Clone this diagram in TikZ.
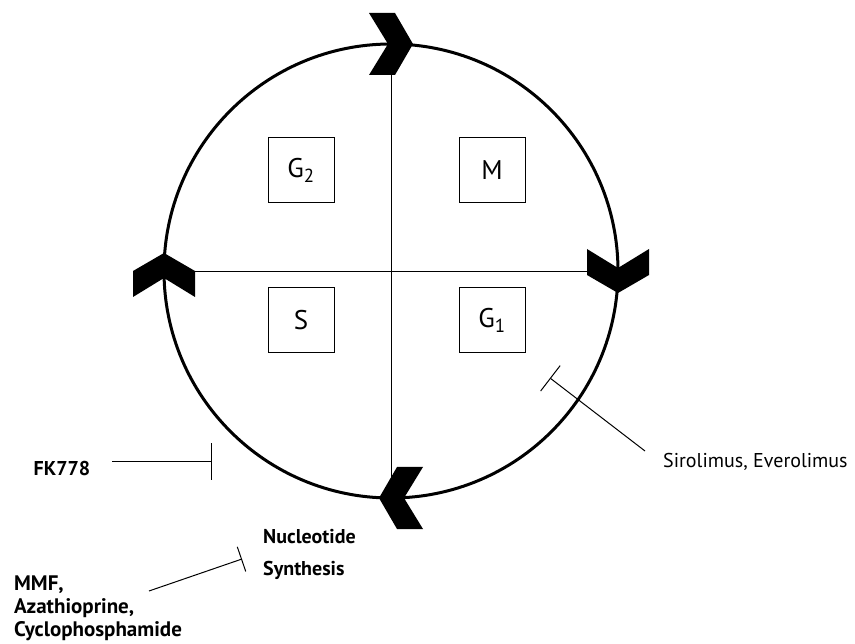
\documentclass[tikz,border=0pt]{standalone}
\usepackage{fontspec}
\setmainfont{PT Sans}
\usetikzlibrary{arrows.meta, calc}
\tikzset{
    pics/chevron/.style = {
        code = {%
        \fill (22,0) -- (4,-31) -- (-22,-31) -- (-3,0) -- (-22,31) -- (4,31) -- cycle;
        }
    },
}

\begin{document}
\begin{tikzpicture}[x=1pt,y=-1pt,
    phasebox/.style={draw,line width=1pt,minimum width=66pt,minimum height=65pt,inner sep=0pt,font=\fontsize{27}{30}\selectfont},
    drug/.style={inner sep=0pt,align=left,font=\fontsize{20}{23}\selectfont\bfseries},
    inhibit/.style={line width=1pt,-{Bar[width=#1,length=1pt]}}]

\useasboundingbox (0,0) rectangle (855,644);

\node[circle,draw,line width=3pt,minimum size=454pt,inner sep=0pt,outer sep=0pt](ring) at (391,271){};
\draw[line width=0.9pt](ring.north) -- (ring.south);
\draw[line width=0.9pt](ring.west) -- (ring.east);

\pic at (ring.north) {chevron};
\pic[rotate=-90] at (ring.east) {chevron};
\pic[rotate=180] at ($(ring.south)+(10,0)$) {chevron};
\pic[rotate=90] at ($(ring.west)+(0,4)$) {chevron};

\node[phasebox](g2) at (301,170){G\textsubscript{2}};
\node[phasebox](m) at (492,170){M};
\node[phasebox](s) at (301,320){S};
\node[phasebox](g1) at (492,320){G\textsubscript{1}};

\node[drug](fk) at (62,469){FK778};
\coordinate (fk-from) at (112,462);
\coordinate (fk-to) at (212,462);
\draw[inhibit=37pt](fk-from) -- (fk-to);

\node[drug,anchor=north west,font=\fontsize{21}{23}\selectfont\bfseries](mmf) at (14,576){MMF,\\Azathioprine,\\Cyclophosphamide};
\node[drug,anchor=north west,font=\fontsize{20}{32}\selectfont\bfseries](nuc) at (263,529){Nucleotide\\Synthesis};
\coordinate (mmf-from) at (149,591);
\coordinate (mmf-to) at (242,559);
\draw[inhibit=26pt](mmf-from) -- (mmf-to);

\node[drug,anchor=west,font=\fontsize{20}{23}\selectfont](siro) at (663,462){Sirolimus, Everolimus};
\coordinate (siro-from) at (645,451);
\coordinate (siro-to) at (550,378);
\draw[inhibit=32pt](siro-from) -- (siro-to);

\end{tikzpicture}
\end{document}
